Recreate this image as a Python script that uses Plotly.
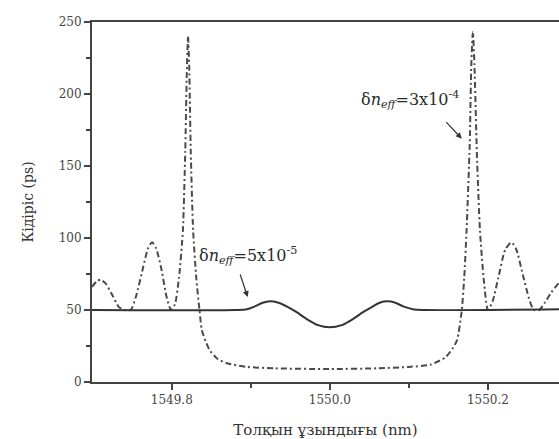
import plotly.graph_objects as go

# Dash-dot curve: delta n_eff = 3x10^-4
wl_a = [1549.699, 1549.705, 1549.710, 1549.717, 1549.725, 1549.733, 1549.740, 1549.748,
        1549.755, 1549.763, 1549.770, 1549.775, 1549.780, 1549.787, 1549.793, 1549.799,
        1549.804, 1549.809, 1549.814, 1549.817, 1549.819, 1549.8205, 1549.822, 1549.824,
        1549.827, 1549.831, 1549.835, 1549.838, 1549.843, 1549.848, 1549.858, 1549.870,
        1549.895, 1549.930, 1550.000, 1550.060, 1550.100, 1550.127, 1550.146, 1550.155,
        1550.161, 1550.167, 1550.170, 1550.173, 1550.177, 1550.179, 1550.181, 1550.183,
        1550.186, 1550.190, 1550.195, 1550.200, 1550.206, 1550.213, 1550.222, 1550.230,
        1550.236, 1550.244, 1550.252, 1550.258, 1550.265, 1550.272, 1550.280, 1550.290]
delay_a = [66, 70, 71, 68, 60, 52, 50, 50,
           60, 78, 93, 97, 93, 78, 60, 50,
           54, 72, 105, 160, 215, 240, 220, 160,
           105, 72, 50, 36, 28, 22, 16, 13,
           10.5, 9.5, 9, 9.5, 10.5, 12, 17, 23,
           29, 50, 72, 105, 165, 220, 243, 220,
           160, 105, 70, 50, 56, 72, 92, 97,
           92, 75, 58, 50, 50, 55, 62, 69]

# Solid curve: delta n_eff = 5x10^-5
wl_b = [1549.699, 1549.880, 1549.895, 1549.905, 1549.915, 1549.924, 1549.935, 1549.947,
        1549.958, 1549.970, 1549.985, 1550.000, 1550.015, 1550.030, 1550.042, 1550.053,
        1550.063, 1550.073, 1550.083, 1550.093, 1550.105, 1550.120, 1550.290]
delay_b = [50, 50, 50.5, 52.5, 55, 56, 55, 52,
           48.5, 44, 39.5, 38, 39.5, 44, 48.5, 52,
           55, 56, 55, 52.5, 50.5, 50, 50.5]

x_ticks = [1549.8, 1550.0, 1550.2]
x_ticklabels = ["1549.8", "1550.0", "1550.2"]
y_ticks = [0, 50, 100, 150, 200, 250]

serif = "DejaVu Serif"
axis_col = "#444444"

fig = go.Figure()
fig.add_trace(go.Scatter(x=wl_a, y=delay_a, mode="lines",
                         line=dict(color="#4a4a4a", width=2, dash="6px,3px,2px,3px",
                                   shape="spline", smoothing=0.6),
                         showlegend=False, hoverinfo="skip"))
fig.add_trace(go.Scatter(x=wl_b, y=delay_b, mode="lines",
                         line=dict(color="#333333", width=2, shape="spline", smoothing=0.8),
                         showlegend=False, hoverinfo="skip"))

fig.add_annotation(x=1550.101, y=196, xref="x", yref="y", showarrow=False,
                   text="δ<i>n</i><sub><i>eff</i></sub>=3x10<sup>-4</sup>",
                   font=dict(family=serif, size=16, color="#2a2a2a"))
fig.add_annotation(x=1550.167, y=169, xref="x", yref="y", text="", showarrow=True,
                   ax=-17, ay=-18, arrowhead=2, arrowsize=1, arrowwidth=1.2,
                   arrowcolor="#333333")
fig.add_annotation(x=1549.896, y=88, xref="x", yref="y", showarrow=False,
                   text="δ<i>n</i><sub><i>eff</i></sub>=5x10<sup>-5</sup>",
                   font=dict(family=serif, size=16, color="#2a2a2a"))
fig.add_annotation(x=1549.896, y=59, xref="x", yref="y", text="", showarrow=True,
                   ax=-8, ay=-24, arrowhead=2, arrowsize=1, arrowwidth=1.2,
                   arrowcolor="#333333")

fig.update_layout(
    width=559, height=439,
    margin=dict(l=92, r=0, t=22, b=57),
    paper_bgcolor="white", plot_bgcolor="white",
    font=dict(family=serif, color="#333333"),
    xaxis=dict(range=[1549.699, 1550.29], tickvals=x_ticks, ticktext=x_ticklabels,
               showgrid=False, zeroline=False, showline=True, linecolor=axis_col,
               linewidth=2, mirror=True, ticks="outside", ticklen=6, tickwidth=1.5,
               tickcolor=axis_col, tickfont=dict(family=serif, size=12, color="#444444"),
               minor=dict(tickvals=[1549.9, 1550.1], ticks="outside", ticklen=4,
                          tickwidth=1.5, tickcolor=axis_col),
               title=dict(text="Толқын ұзындығы (nm)", standoff=18,
                          font=dict(family=serif, size=15, color="#333333"))),
    yaxis=dict(range=[0, 250], tickvals=y_ticks, showgrid=False, zeroline=False,
               showline=True, linecolor=axis_col, linewidth=2, ticks="outside",
               ticklen=6, tickwidth=1.5, tickcolor=axis_col,
               tickfont=dict(family=serif, size=12, color="#444444"),
               minor=dict(tickvals=[25, 75, 125, 175, 225], ticks="outside", ticklen=4,
                          tickwidth=1.5, tickcolor=axis_col),
               title=dict(text="Кідіріс (ps)", standoff=22,
                          font=dict(family=serif, size=14, color="#333333"))),
)

fig.write_html("out.html", config={"displayModeBar": False},
               post_script="document.body.style.margin='0';document.body.style.overflow='hidden';")
